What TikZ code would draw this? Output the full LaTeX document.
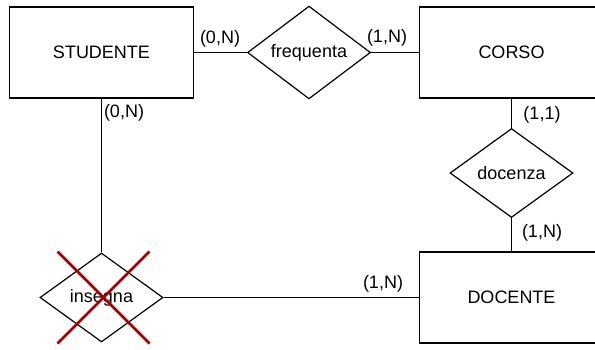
\documentclass[tikz,border=0pt]{standalone}
\usepackage{fontspec}
\setmainfont{Liberation Sans}
\usetikzlibrary{shapes.geometric}
\definecolor{crossred}{RGB}{160,0,0}
\begin{document}
\begin{tikzpicture}[x=1pt, y=-1pt, line width=1.2pt, font=\fontsize{18}{21}\selectfont,
    entity/.style={rectangle, draw, minimum width=184pt, minimum height=91pt},
    relation/.style={diamond, draw, inner sep=0pt, minimum width=123pt, minimum height=89pt},
    card/.style={inner sep=0pt}]
    \useasboundingbox (0,0) rectangle (595,349);
    \clip (0,0) rectangle (595,349);
    % entities
    \node [entity] (stud) at (101.5,52.5) {STUDENTE};
    \node [entity] (corso) at (511.5,52.5) {CORSO};
    \node [entity] (doc) at (511.5,297.5) {DOCENTE};
    % relations
    \node [relation] (freq) at (309,52.5) {frequenta};
    \node [relation] (docz) at (511.5,173) {docenza};
    \node [relation] (ins) at (101.5,297.5) {insegna};
    % links
    \draw (stud) -- (freq);
    \draw (freq) -- (corso);
    \draw (corso) -- (docz);
    \draw (docz) -- (doc);
    \draw (stud) -- (ins);
    \draw (ins) -- (doc);
    % cardinalities
    \node [card] (c1) at (220,39) {(0,N)};
    \node [card] (c2) at (387,38) {(1,N)};
    \node [card] (c3) at (124,113) {(0,N)};
    \node [card] (c4) at (542,115) {(1,1)};
    \node [card] (c5) at (542,233) {(1,N)};
    \node [card] (c6) at (383,284) {(1,N)};
    % insegna crossed out
    \draw [crossred, line width=2.6pt] (ins.center) ++(-44,-46) -- ++(92,92);
    \draw [crossred, line width=2.6pt] (ins.center) ++(48,-46) -- ++(-92,92);
\end{tikzpicture}
\end{document}
